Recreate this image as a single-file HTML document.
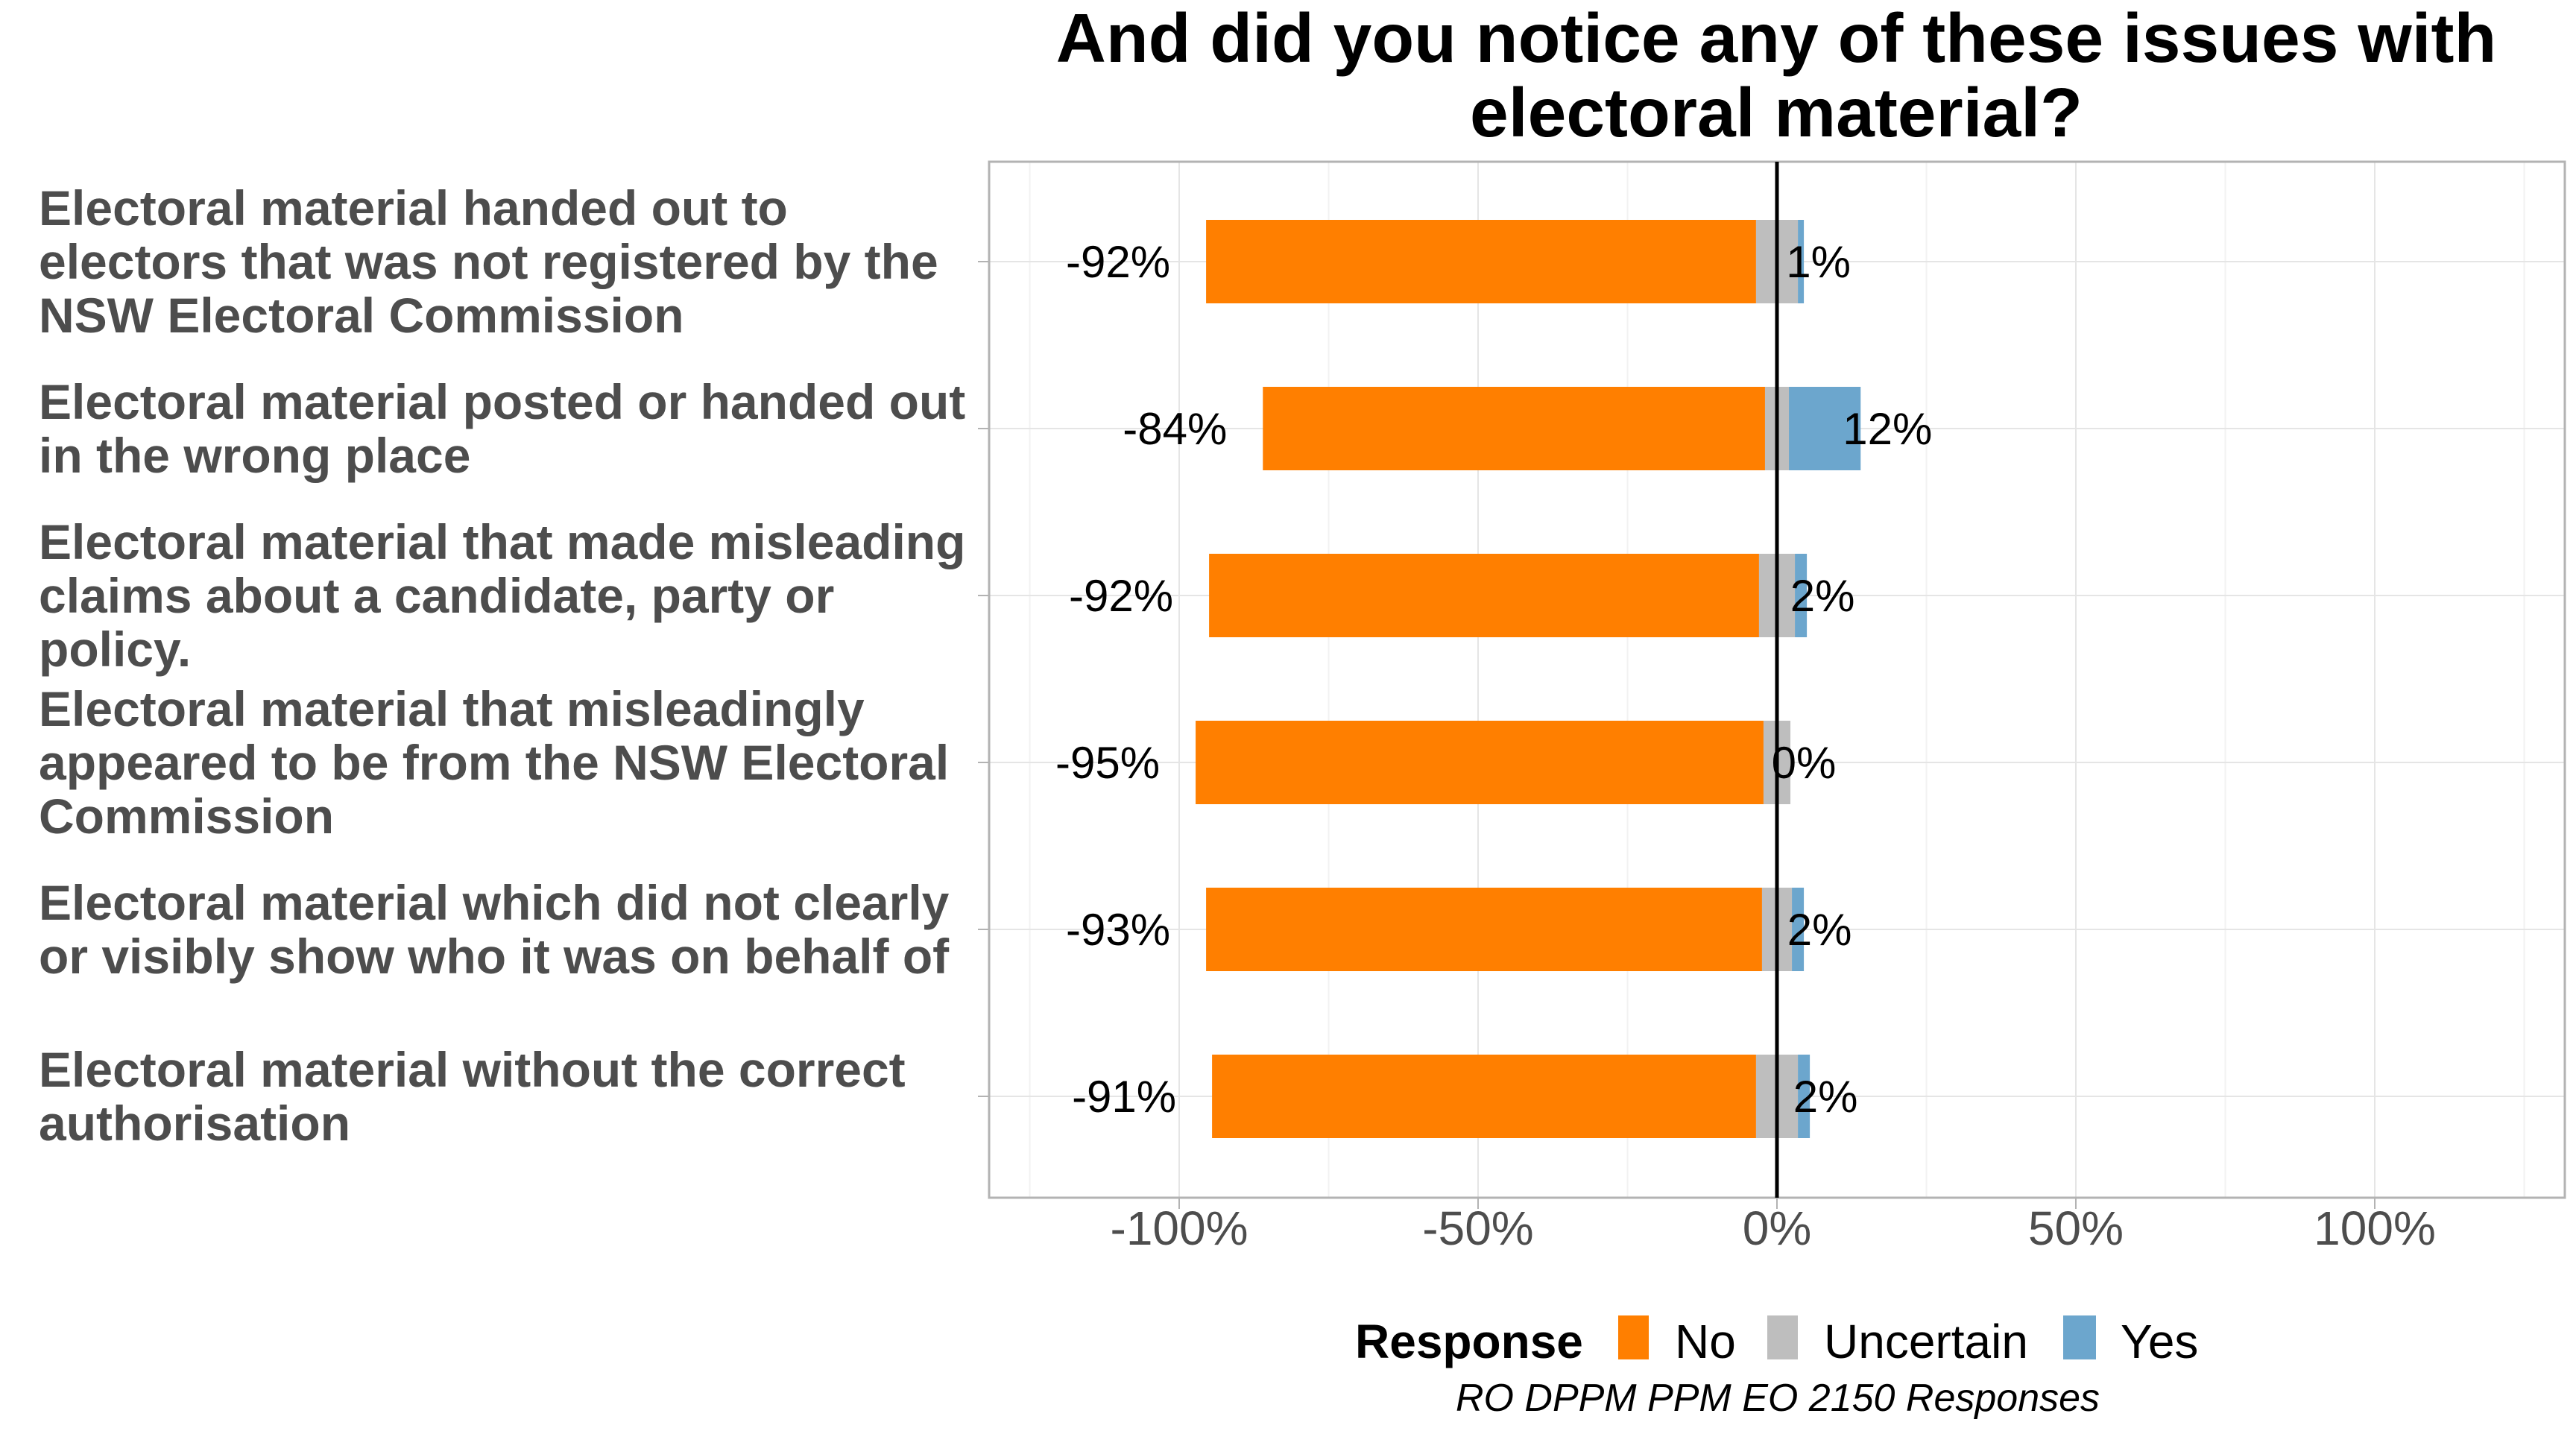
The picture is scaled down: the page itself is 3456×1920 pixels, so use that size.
<!DOCTYPE html>
<html><head><meta charset="utf-8"><style>
html,body{margin:0;padding:0;background:#fff}
svg{display:block;font-family:"Liberation Sans",Arial,sans-serif}
</style></head><body>
<svg id="chart" width="3456" height="1920" viewBox="0 0 3456 1920" xmlns="http://www.w3.org/2000/svg">
<text x="2383" y="83" font-size="93" font-weight="bold" text-anchor="middle" fill="#000">And did you notice any of these issues with</text>
<text x="2383" y="183" font-size="93" font-weight="bold" text-anchor="middle" fill="#000">electoral material?</text>
<g id="grid"></g>
<g id="bars"></g>
<g id="labels"></g>
<rect x="1327" y="217" width="2114" height="1390" fill="none" stroke="#b3b3b3" stroke-width="3"/>
<g>
<text x="1818" y="1822" font-size="64" font-weight="bold" fill="#000">Response</text>
<rect x="2171" y="1765" width="41" height="59" fill="#ff7f00"/>
<text x="2247" y="1822" font-size="64" fill="#000">No</text>
<rect x="2371" y="1765" width="41" height="59" fill="#bebebe"/>
<text x="2447" y="1822" font-size="64" fill="#000">Uncertain</text>
<rect x="2768" y="1765" width="44" height="59" fill="#6ca6cd"/>
<text x="2845" y="1822" font-size="64" fill="#000">Yes</text>
</g>
<text x="2385" y="1893" font-size="52" font-style="italic" text-anchor="middle" fill="#000">RO DPPM PPM EO 2150 Responses</text>
</svg>
<script>
const categories = [
 ["Electoral material handed out to","electors that was not registered by the","NSW Electoral Commission"],
 ["Electoral material posted or handed out","in the wrong place"],
 ["Electoral material that made misleading","claims about a candidate, party or","policy."],
 ["Electoral material that misleadingly","appeared to be from the NSW Electoral","Commission"],
 ["Electoral material which did not clearly","or visibly show who it was on behalf of"],
 ["Electoral material without the correct","authorisation"]
];
const noValues = [92, 84, 92, 95, 93, 91];
const uncertainValues = [7, 4, 6, 4.5, 5, 7];
const yesValues = [1, 12, 2, 0, 2, 2];
const xTicks = [-100, -50, 0, 50, 100];
const xTickLabels = ["-100%","-50%","0%","50%","100%"];
const xMinor = [-125, -75, -25, 25, 75, 125];

const NS = "http://www.w3.org/2000/svg";
const X0 = 2384, PX = 8.02;
const xs = v => X0 + v * PX;
const ys = i => 351 + i * 224;
const BH = 112;
function mk(tag, attrs, parent, text){
  const e = document.createElementNS(NS, tag);
  for (const k in attrs) e.setAttribute(k, attrs[k]);
  if (text !== undefined) e.textContent = text;
  parent.appendChild(e);
  return e;
}
const grid = document.getElementById('grid');
const bars = document.getElementById('bars');
const labels = document.getElementById('labels');
const svg = document.getElementById('chart');
xMinor.forEach(v => {
  const l = mk('line', {x1: xs(v), x2: xs(v), y1: 217, y2: 1607, stroke: '#f2f2f2', 'stroke-width': 2}, grid);
  
  
});
xTicks.forEach((v, i) => {
  const l = mk('line', {x1: xs(v), x2: xs(v), y1: 217, y2: 1607, stroke: '#e5e5e5', 'stroke-width': 2}, grid);
  
  
  const t = mk('line', {x1: xs(v), x2: xs(v), y1: 1607, y2: 1622, stroke: '#b3b3b3', 'stroke-width': 2}, grid);
  
  
  const tx = mk('text', {x: xs(v), y: 1670, 'font-size': 64, 'text-anchor': 'middle', fill: '#4d4d4d'}, svg, xTickLabels[i]);
  
  
});
categories.forEach((lines, i) => {
  const cy = ys(i);
  const g = mk('line', {x1: 1327, x2: 3441, y1: cy, y2: cy, stroke: '#e5e5e5', 'stroke-width': 2}, grid);
  
  
  const tk = mk('line', {x1: 1312, x2: 1327, y1: cy, y2: cy, stroke: '#b3b3b3', 'stroke-width': 2}, grid);
  
  
  const n = lines.length;
  lines.forEach((s, j) => {
    const t = mk('text', {x: 52, y: cy + 23 + (j - (n - 1) / 2) * 72, 'font-size': 66, 'font-weight': 'bold', fill: '#4d4d4d'}, labels, s);
    
    
  });
  const half = uncertainValues[i] / 2;
  const no = mk('rect', {x: xs(-half - noValues[i]), y: cy - BH / 2, width: noValues[i] * PX, height: BH, fill: '#ff7f00'}, bars);
  
  
  const un = mk('rect', {x: xs(-half), y: cy - BH / 2, width: uncertainValues[i] * PX, height: BH, fill: '#bebebe'}, bars);
  
  
  const ye = mk('rect', {x: xs(half), y: cy - BH / 2, width: yesValues[i] * PX, height: BH, fill: '#6ca6cd'}, bars);
  
  
  const nl = mk('text', {x: xs(-half - noValues[i]) - 118, y: cy + 21, 'font-size': 60, 'text-anchor': 'middle', fill: '#000'}, bars, '-' + noValues[i] + '%');
  
  
  const yl = mk('text', {x: xs(half + yesValues[i]) + 18 + yesValues[i] * 1.5, y: cy + 21, 'font-size': 60, 'text-anchor': 'middle', fill: '#000'}, bars, yesValues[i] + '%');
  
  
});
const zl = mk('line', {x1: X0, x2: X0, y1: 217, y2: 1607, stroke: '#000', 'stroke-width': 5}, svg);


</script>
</body></html>
